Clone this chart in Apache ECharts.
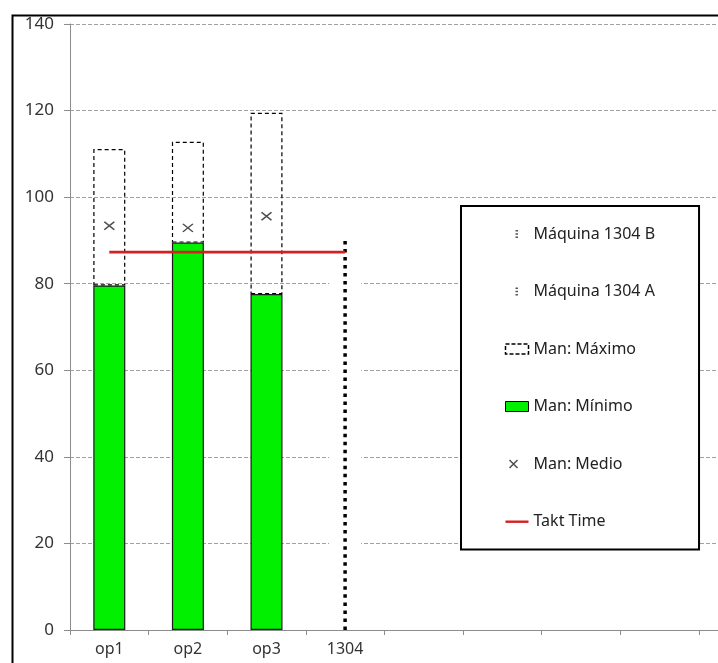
<!DOCTYPE html>
<html>
<head>
<meta charset="utf-8">
<script src="https://cdn.jsdelivr.net/npm/echarts@6/dist/echarts.min.js"></script>
<style>html,body{margin:0;padding:0;background:#fff}#c{width:718px;height:663px}</style>
</head>
<body>
<div id="c"></div>
<script>
var categories = ['op1', 'op2', 'op3', '1304', '', '', '', '', ''];
var manMin = [79.6, 89.5, 77.6, '-', '-', '-', '-', '-', '-'];
var manMax = [111.1, 112.8, 119.5, '-', '-', '-', '-', '-', '-'];
var manMedio = [93.4, 92.9, 95.6, '-', '-', '-', '-', '-', '-'];
var maquinaA = ['-', '-', '-', 45.2, '-', '-', '-', '-', '-'];
var maquinaB = ['-', '-', '-', 45.2, '-', '-', '-', '-', '-'];
var taktTime = [87.3, 87.3, 87.3, 87.3, '-', '-', '-', '-', '-'];
var yTicks = [0, 20, 40, 60, 80, 100, 120, 140];

function num(v) { return typeof v === 'number'; }
var maxDiff = manMax.map(function (v, i) { return num(v) ? +(v - manMin[i]).toFixed(2) : '-'; });
var machineTotal = maquinaA.map(function (v, i) { return num(v) ? v + maquinaB[i] : '-'; });

var font = '"Noto Sans", sans-serif';
var chart = echarts.init(document.getElementById('c'), null, { renderer: 'canvas' });
chart.setOption({
  animation: false,
  backgroundColor: '#fff',
  textStyle: { fontFamily: font },
  graphic: [{
    type: 'rect', left: 10, top: 13, z: 100,
    shape: { x: 0, y: 0, width: 800, height: 800 },
    style: { fill: 'none', stroke: '#000', lineWidth: 2 }
  }],
  grid: { left: 70, top: 24, width: 707.4, height: 606, containLabel: false, outerBoundsMode: 'none' },
  xAxis: {
    type: 'category', data: categories,
    axisLine: { lineStyle: { color: '#8c8c8c', width: 1 } },
    axisTick: { show: true, length: 5, lineStyle: { color: '#8c8c8c' } },
    axisLabel: { color: '#333', fontSize: 16, fontFamily: font, margin: 11, interval: 0 },
    splitLine: { show: false }
  },
  yAxis: {
    type: 'value', min: yTicks[0], max: yTicks[yTicks.length - 1], interval: 20,
    axisLine: { show: true, lineStyle: { color: '#8c8c8c', width: 1 } },
    axisTick: { show: true, length: 6, lineStyle: { color: '#8c8c8c' } },
    axisLabel: { color: '#333', fontSize: 17, fontFamily: font, margin: 16 },
    splitLine: { show: true, lineStyle: { color: '#a0a0a0', type: [4, 2], width: 1 } }
  },
  legend: {
    orient: 'vertical', left: 461, top: 206,
    padding: [20, 44, 20, 42],
    itemGap: 41.5, itemWidth: 23, itemHeight: 10,
    borderColor: '#000', borderWidth: 2, backgroundColor: '#fff',
    z: 50,
    textStyle: { fontSize: 16, color: '#222', fontFamily: font, lineHeight: 16 },
    data: [
      { name: 'Máquina 1304 B', icon: 'path://M0,0M23,10M10,1h2.5v1.6h-2.5zM10,4.2h2.5v1.6h-2.5zM10,7.4h2.5v1.6h-2.5z', itemStyle: { color: '#555', borderWidth: 0 } },
      { name: 'Máquina 1304 A', icon: 'path://M0,0M23,10M10,1h2.5v1.6h-2.5zM10,4.2h2.5v1.6h-2.5zM10,7.4h2.5v1.6h-2.5z', itemStyle: { color: '#555', borderWidth: 0 } },
      { name: 'Man: Máximo', icon: 'rect', itemStyle: { color: '#fff', borderColor: '#000', borderWidth: 1.5, borderType: [4, 2] } },
      { name: 'Man: Mínimo', icon: 'rect', itemStyle: { color: '#00f000', borderColor: '#000', borderWidth: 1 } },
      { name: 'Man: Medio', icon: 'path://M0,0M23,10M4,1L12,9M12,1L4,9', itemStyle: { color: 'none', borderColor: '#222', borderWidth: 1.5 } },
      { name: 'Takt Time', icon: 'path://M0,0M23,10M0,4h23v2.4h-23z', itemStyle: { color: '#d42020', borderWidth: 0 } }
    ]
  },
  series: [
    {
      name: 'Man: Mínimo', type: 'bar', stack: 'all', barWidth: 32, data: manMin, z: 10,
      itemStyle: { color: '#00f000', borderColor: '#1a1a1a', borderWidth: 1.2 }
    },
    {
      name: 'Man: Máximo', type: 'bar', stack: 'all', barWidth: 32, data: maxDiff, z: 1,
      itemStyle: { color: 'rgba(255,255,255,0)', borderColor: '#000', borderWidth: 1.2, borderType: [4, 3] }
    },
    {
      name: 'Máquina 1304 A', type: 'bar', stack: 'all', barWidth: 32, data: maquinaA, z: 1,
      itemStyle: { color: '#fff', borderWidth: 0 }
    },
    {
      name: 'Máquina 1304 B', type: 'bar', stack: 'all', barWidth: 32, data: maquinaB, z: 1,
      itemStyle: { color: '#fff', borderWidth: 0 }
    },
    {
      name: 'machine-dots', type: 'pictorialBar', data: machineTotal,
      symbol: 'rect', symbolSize: [3.5, 3.5], symbolRepeat: true, symbolMargin: 2.3,
      symbolClip: true, barWidth: 4, z: 4,
      itemStyle: { color: '#000' }, silent: true
    },
    {
      name: 'Takt Time', type: 'line', data: taktTime, symbol: 'none', z: 12,
      lineStyle: { color: '#d42020', width: 2.6 }, itemStyle: { color: '#d42020' }
    },
    {
      name: 'Man: Medio', type: 'scatter', data: manMedio, z: 12,
      symbol: 'path://M0,0L10,10M10,0L0,10', symbolSize: [10, 8],
      itemStyle: { color: 'none', borderColor: '#222', borderWidth: 1.5 }
    }
  ]
});
</script>
</body>
</html>
